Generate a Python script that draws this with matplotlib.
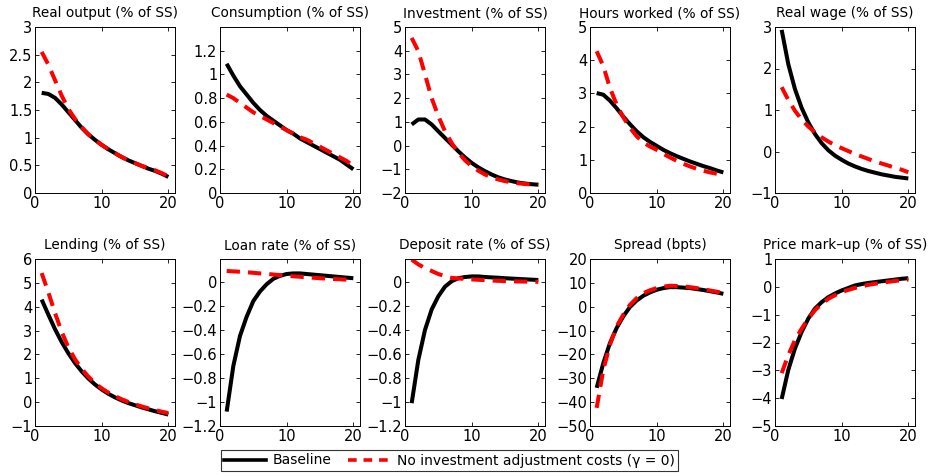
import numpy as np
import matplotlib
matplotlib.use('Agg')
import matplotlib.pyplot as plt
from matplotlib.lines import Line2D

plt.rcParams['font.family'] = ['DejaVu Sans']

t = np.arange(1, 21)

titles = ['Real output (% of SS)', 'Consumption (% of SS)', 'Investment (% of SS)',
          'Hours worked (% of SS)', 'Real wage (% of SS)',
          'Lending (% of SS)', 'Loan rate (% of SS)', 'Deposit rate (% of SS)',
          'Spread (bpts)', 'Price mark\u2013up (% of SS)']

base_output = [1.81, 1.79, 1.72, 1.60, 1.46, 1.32, 1.18, 1.06, 0.96, 0.87,
               0.79, 0.72, 0.65, 0.59, 0.54, 0.49, 0.44, 0.40, 0.35, 0.29]
noiac_output = [2.55, 2.32, 2.04, 1.76, 1.52, 1.34, 1.19, 1.06, 0.96, 0.87,
                0.79, 0.72, 0.65, 0.59, 0.54, 0.49, 0.45, 0.41, 0.36, 0.30]

base_cons = [1.09, 0.99, 0.90, 0.83, 0.76, 0.70, 0.65, 0.61, 0.57, 0.53,
             0.50, 0.46, 0.43, 0.40, 0.37, 0.34, 0.31, 0.28, 0.24, 0.20]
noiac_cons = [0.83, 0.80, 0.76, 0.72, 0.68, 0.65, 0.62, 0.59, 0.56, 0.53,
              0.50, 0.47, 0.45, 0.42, 0.39, 0.36, 0.33, 0.30, 0.27, 0.23]

base_inv = [0.89, 1.10, 1.10, 0.89, 0.60, 0.32, 0.04, -0.24, -0.50, -0.73,
            -0.92, -1.08, -1.22, -1.34, -1.43, -1.50, -1.56, -1.60, -1.63, -1.65]
noiac_inv = [4.54, 3.98, 3.00, 2.00, 1.24, 0.60, 0.11, -0.30, -0.62, -0.87,
             -1.06, -1.22, -1.34, -1.43, -1.50, -1.55, -1.59, -1.62, -1.64, -1.65]

base_hours = [3.01, 2.96, 2.78, 2.55, 2.30, 2.07, 1.86, 1.68, 1.54, 1.42,
              1.30, 1.20, 1.11, 1.03, 0.95, 0.88, 0.81, 0.75, 0.68, 0.62]
noiac_hours = [4.27, 3.82, 3.16, 2.66, 2.28, 1.96, 1.71, 1.52, 1.40, 1.30,
               1.18, 1.07, 0.97, 0.88, 0.80, 0.73, 0.67, 0.62, 0.58, 0.55]

base_wage = [2.93, 2.10, 1.50, 1.05, 0.70, 0.42, 0.20, 0.03, -0.10, -0.20,
             -0.29, -0.36, -0.42, -0.47, -0.51, -0.55, -0.58, -0.61, -0.63, -0.65]
noiac_wage = [1.55, 1.24, 0.98, 0.77, 0.60, 0.46, 0.34, 0.24, 0.15, 0.08,
              0.01, -0.06, -0.12, -0.18, -0.24, -0.29, -0.34, -0.39, -0.44, -0.50]

base_lend = [4.30, 3.67, 3.06, 2.52, 2.05, 1.64, 1.29, 0.99, 0.74, 0.53,
             0.35, 0.20, 0.07, -0.04, -0.13, -0.22, -0.30, -0.38, -0.45, -0.52]
noiac_lend = [5.41, 4.60, 3.74, 2.95, 2.30, 1.80, 1.40, 1.07, 0.80, 0.58,
              0.40, 0.25, 0.12, 0.01, -0.09, -0.18, -0.26, -0.33, -0.40, -0.46]

base_loan = [-1.08, -0.70, -0.45, -0.29, -0.16, -0.08, -0.02, 0.025, 0.05, 0.065,
             0.07, 0.07, 0.065, 0.06, 0.055, 0.05, 0.045, 0.04, 0.035, 0.03]
noiac_loan = [0.09, 0.087, 0.084, 0.08, 0.075, 0.07, 0.066, 0.061, 0.056, 0.05,
              0.046, 0.042, 0.038, 0.034, 0.03, 0.027, 0.024, 0.021, 0.018, 0.015]

base_dep = [-1.01, -0.65, -0.40, -0.23, -0.12, -0.04, 0.005, 0.03, 0.04, 0.045,
            0.045, 0.04, 0.037, 0.034, 0.03, 0.027, 0.024, 0.021, 0.018, 0.015]
noiac_dep = [0.185, 0.145, 0.115, 0.09, 0.065, 0.047, 0.033, 0.028, 0.024, 0.02,
             0.017, 0.014, 0.011, 0.008, 0.006, 0.004, 0.003, 0.002, 0.001, 0.0]

base_spread = [-34.0, -23.6, -15.2, -8.9, -4.0, -0.1, 2.6, 4.6, 6.0, 7.1,
               7.8, 8.2, 8.2, 8.0, 7.8, 7.4, 7.0, 6.5, 6.0, 5.4]
noiac_spread = [-42.4, -26.4, -15.9, -8.2, -3.3, 0.8, 3.6, 5.7, 6.9, 7.8,
                8.4, 8.8, 8.7, 8.5, 8.2, 7.8, 7.3, 6.8, 6.3, 5.7]

base_markup = [-4.03, -2.98, -2.21, -1.62, -1.14, -0.78, -0.55, -0.37, -0.24, -0.13,
               -0.04, 0.05, 0.10, 0.14, 0.17, 0.20, 0.23, 0.26, 0.29, 0.31]
noiac_markup = [-3.10, -2.45, -1.91, -1.50, -1.14, -0.84, -0.61, -0.43, -0.30, -0.19,
                -0.11, -0.04, 0.02, 0.07, 0.11, 0.15, 0.18, 0.21, 0.24, 0.26]

baseline = [base_output, base_cons, base_inv, base_hours, base_wage,
            base_lend, base_loan, base_dep, base_spread, base_markup]
no_iac = [noiac_output, noiac_cons, noiac_inv, noiac_hours, noiac_wage,
          noiac_lend, noiac_loan, noiac_dep, noiac_spread, noiac_markup]

ylims = [(0, 3), (0, 1.4), (-2, 5), (0, 5), (-1, 3),
         (-1, 6), (-1.2, 0.19), (-1.2, 0.19), (-50, 20), (-5, 1)]
yticks = [np.arange(0, 3.01, 0.5), np.arange(0, 1.21, 0.2), np.arange(-2, 5.1, 1),
          np.arange(0, 5.1, 1), np.arange(-1, 3.1, 1), np.arange(-1, 6.1, 1),
          np.arange(-1.2, 0.01, 0.2), np.arange(-1.2, 0.01, 0.2),
          np.arange(-50, 20.1, 10), np.arange(-5, 1.1, 1)]

W, H = 930, 476
fig = plt.figure(figsize=(W / 100, H / 100), dpi=100)

def fmt(v):
    v = round(v, 6)
    s = ('%g' % v)
    s = s.replace('-', '\u2212')
    if s == '\u22120':
        s = '0'
    return s

for i in range(10):
    row, col = divmod(i, 5)
    left = 35 + col * 185
    top = 27 if row == 0 else 259
    height = 166 if row == 0 else 167
    ax = fig.add_axes([left / W, 1 - (top + height) / H, 140 / W, height / H])
    ax.plot(t, baseline[i], color='black', lw=2.9, solid_capstyle='butt')
    ax.plot(t, no_iac[i], color='red', lw=2.9, dashes=(3.3, 2.0), dash_capstyle='butt')
    ax.set_xlim(0, 21)
    ax.set_ylim(*ylims[i])
    ax.set_xticks([0, 10, 20])
    ax.set_yticks(yticks[i])
    ax.set_yticklabels([fmt(v) for v in yticks[i]])
    ax.tick_params(direction='in', length=3, width=0.6, top=True, right=True,
                   labelsize=10.5, pad=2, colors='black')
    for sp in ax.spines.values():
        sp.set_linewidth(0.7)
    ax.set_title(titles[i], fontsize=9.8, pad=7)

handles = [Line2D([], [], color='black', lw=2.6),
           Line2D([], [], color='red', lw=2.6, dashes=(2.4, 1.9))]
leg = fig.legend(handles, ['Baseline', 'No investment adjustment costs (\u03b3 = 0)'],
                 loc='center', bbox_to_anchor=(449.5 / W, 1 - 460.5 / H), ncol=2,
                 fontsize=10, frameon=True, fancybox=False, handlelength=3.0,
                 handletextpad=0.5, columnspacing=1.2, borderpad=0.25,
                 borderaxespad=0)
leg.get_frame().set_edgecolor('black')
leg.get_frame().set_linewidth(0.8)

fig.savefig('out.png', dpi=100)
